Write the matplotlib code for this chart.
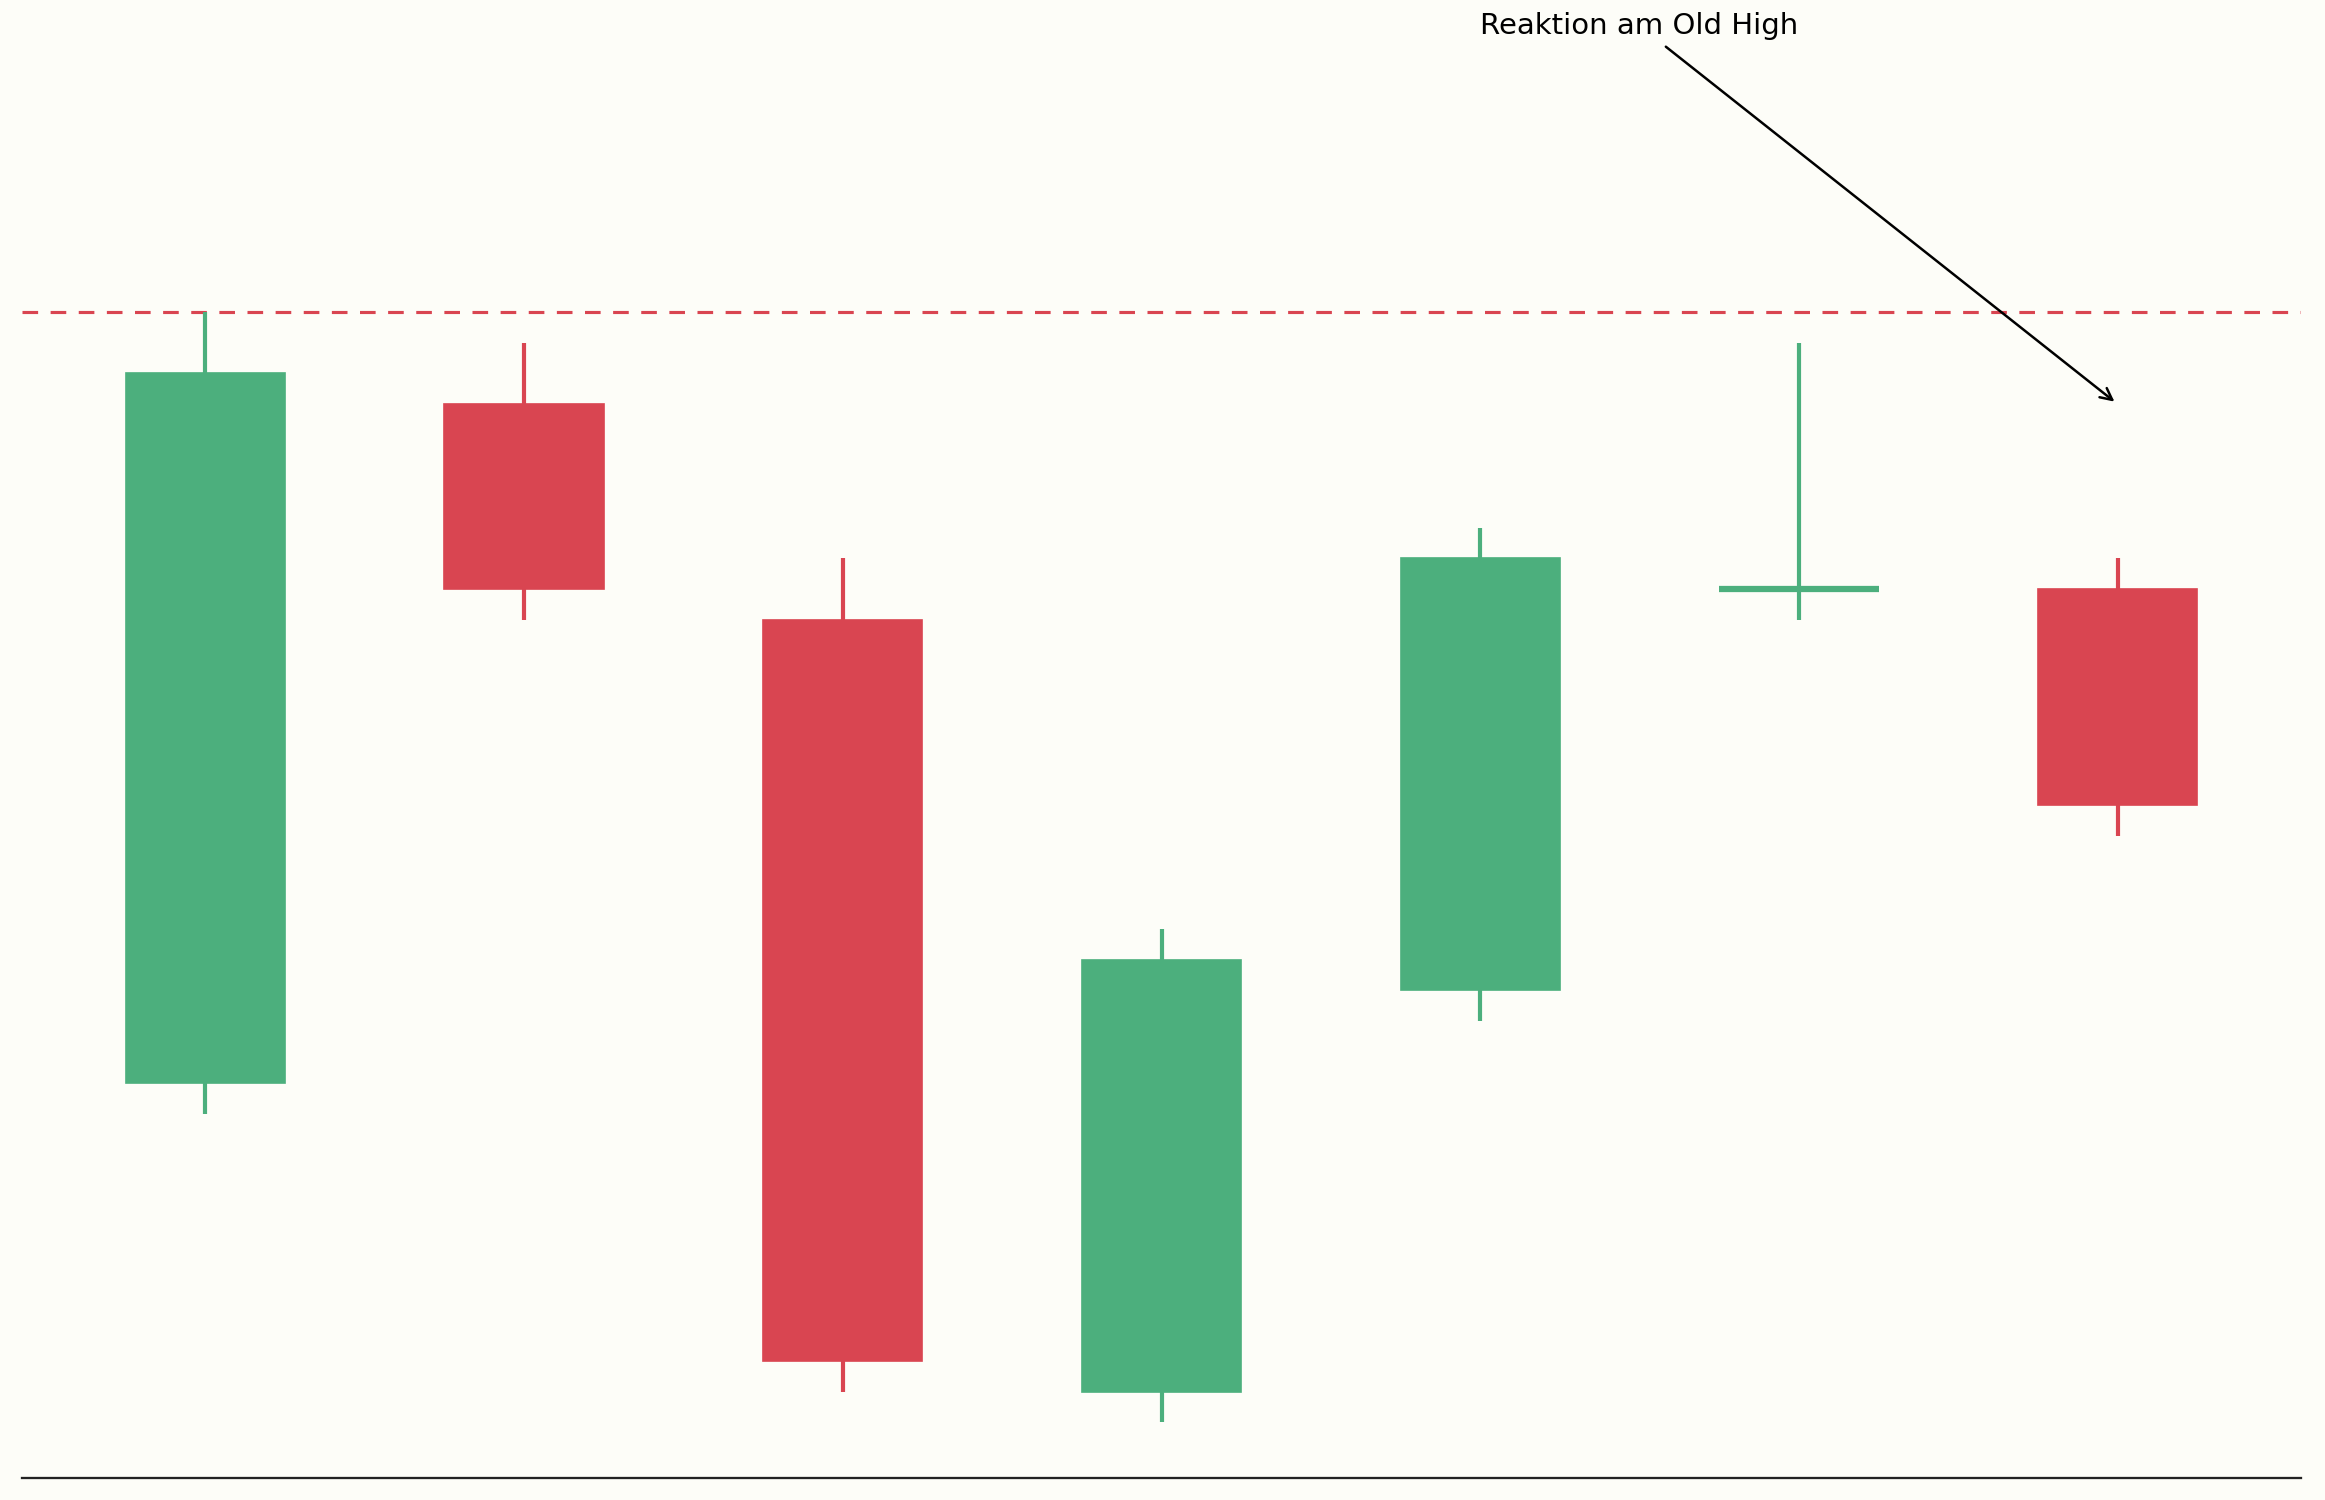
import matplotlib

matplotlib.use("Agg")
import matplotlib.pyplot as plt

# candle data (arbitrary price units)
opens = [85, 107, 100, 75, 88, 101, 101]
highs = [110, 109, 102, 90, 103, 109, 102]
lows = [84, 100, 75, 74, 87, 100, 93]
closes = [108, 101, 76, 89, 102, 101, 94]
old_high = 110

label = "Reaktion am Old High"
label_pos = (4.5, 119)
arrow_target = (6, 107)

GREEN = "#4caf7d"
RED = "#d94551"
BG = "#fdfdf8"

fig = plt.figure(figsize=(15.5, 10), dpi=150, facecolor=BG)
ax = fig.add_axes([22 / 2325, 22 / 1500, 2279 / 2325, 1478 / 1500])
ax.set_facecolor(BG)

for i, (o, h, l, c) in enumerate(zip(opens, highs, lows, closes)):
    col = GREEN if c >= o else RED
    ax.vlines(i, l, h, color=col, linewidth=2, zorder=2)
    if c == o:
        ax.hlines(c, i - 0.25, i + 0.25, color=col, linewidth=3, zorder=3)
    else:
        ax.bar(i, abs(c - o), bottom=min(o, c), width=0.5, color=col,
               edgecolor=col, linewidth=0.8, zorder=3)

ax.axhline(old_high, color=RED, linewidth=1.5, linestyle=(0, (5, 4)), zorder=1)

ax.annotate(label, xy=arrow_target, xytext=label_pos, ha="center",
            fontsize=14, color="black",
            arrowprops=dict(arrowstyle="->", color="black", lw=1.2))

ax.set_xlim(-0.575, 6.575)
ax.set_ylim(72.2, 120.1)
for side in ["top", "right", "left"]:
    ax.spines[side].set_visible(False)
ax.spines["bottom"].set_color("#222222")
ax.spines["bottom"].set_linewidth(1.1)
ax.set_xticks([])
ax.set_yticks([])

fig.savefig("out.png", dpi=150, facecolor=BG)
